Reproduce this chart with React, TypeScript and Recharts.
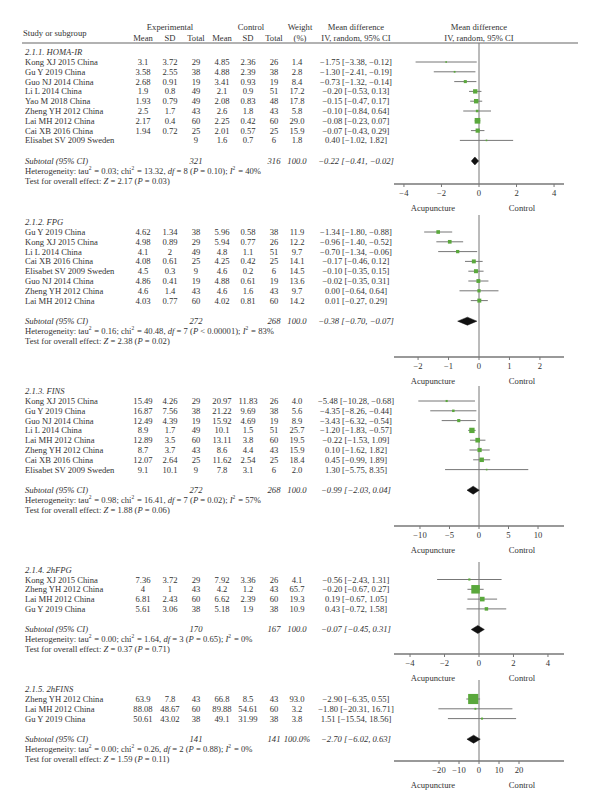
import React from 'react';
import { ScatterChart, Scatter, XAxis, YAxis, ErrorBar, ReferenceLine } from 'recharts';

const FONT = '"Liberation Serif", "Times New Roman", serif';
const INK = '#333';
const GREEN = '#5aa83c';
const GREY = '#777';
const PITCH = 9.8;
const FS = 8.6;

// study rows: display strings for the table, numbers for the plot
const homaIr = [
    { study: 'Kong XJ 2015 China', eMean: '3.1', eSd: '3.72', eN: 29, cMean: '4.85', cSd: '2.36', cN: 26, w: 1.4, md: -1.75, lo: -3.38, hi: -0.12 },
    { study: 'Gu Y 2019 China', eMean: '3.58', eSd: '2.55', eN: 38, cMean: '4.88', cSd: '2.39', cN: 38, w: 2.8, md: -1.30, lo: -2.41, hi: -0.19 },
    { study: 'Guo NJ 2014 China', eMean: '2.68', eSd: '0.91', eN: 19, cMean: '3.41', cSd: '0.93', cN: 19, w: 8.4, md: -0.73, lo: -1.32, hi: -0.14 },
    { study: 'Li L 2014 China', eMean: '1.9', eSd: '0.8', eN: 49, cMean: '2.1', cSd: '0.9', cN: 51, w: 17.2, md: -0.20, lo: -0.53, hi: 0.13 },
    { study: 'Yao M 2018 China', eMean: '1.93', eSd: '0.79', eN: 49, cMean: '2.08', cSd: '0.83', cN: 48, w: 17.8, md: -0.15, lo: -0.47, hi: 0.17 },
    { study: 'Zheng YH 2012 China', eMean: '2.5', eSd: '1.7', eN: 43, cMean: '2.6', cSd: '1.8', cN: 43, w: 5.8, md: -0.10, lo: -0.84, hi: 0.64 },
    { study: 'Lai MH 2012 China', eMean: '2.17', eSd: '0.4', eN: 60, cMean: '2.25', cSd: '0.42', cN: 60, w: 29.0, md: -0.08, lo: -0.23, hi: 0.07 },
    { study: 'Cai XB 2016 China', eMean: '1.94', eSd: '0.72', eN: 25, cMean: '2.01', cSd: '0.57', cN: 25, w: 15.9, md: -0.07, lo: -0.43, hi: 0.29 },
    { study: 'Elisabet SV 2009 Sweden', eMean: '', eSd: '', eN: 9, cMean: '1.6', cSd: '0.7', cN: 6, w: 1.8, md: 0.40, lo: -1.02, hi: 1.82 },
];

const fpg = [
    { study: 'Gu Y 2019 China', eMean: '4.62', eSd: '1.34', eN: 38, cMean: '5.96', cSd: '0.58', cN: 38, w: 11.9, md: -1.34, lo: -1.80, hi: -0.88 },
    { study: 'Kong XJ 2015 China', eMean: '4.98', eSd: '0.89', eN: 29, cMean: '5.94', cSd: '0.77', cN: 26, w: 12.2, md: -0.96, lo: -1.40, hi: -0.52 },
    { study: 'Li L 2014 China', eMean: '4.1', eSd: '2', eN: 49, cMean: '4.8', cSd: '1.1', cN: 51, w: 9.7, md: -0.70, lo: -1.34, hi: -0.06 },
    { study: 'Cai XB 2016 China', eMean: '4.08', eSd: '0.61', eN: 25, cMean: '4.25', cSd: '0.42', cN: 25, w: 14.1, md: -0.17, lo: -0.46, hi: 0.12 },
    { study: 'Elisabet SV 2009 Sweden', eMean: '4.5', eSd: '0.3', eN: 9, cMean: '4.6', cSd: '0.2', cN: 6, w: 14.5, md: -0.10, lo: -0.35, hi: 0.15 },
    { study: 'Guo NJ 2014 China', eMean: '4.86', eSd: '0.41', eN: 19, cMean: '4.88', cSd: '0.61', cN: 19, w: 13.6, md: -0.02, lo: -0.35, hi: 0.31 },
    { study: 'Zheng YH 2012 China', eMean: '4.6', eSd: '1.4', eN: 43, cMean: '4.6', cSd: '1.6', cN: 43, w: 9.7, md: 0.00, lo: -0.64, hi: 0.64 },
    { study: 'Lai MH 2012 China', eMean: '4.03', eSd: '0.77', eN: 60, cMean: '4.02', cSd: '0.81', cN: 60, w: 14.2, md: 0.01, lo: -0.27, hi: 0.29 },
];

const fins = [
    { study: 'Kong XJ 2015 China', eMean: '15.49', eSd: '4.26', eN: 29, cMean: '20.97', cSd: '11.83', cN: 26, w: 4.0, md: -5.48, lo: -10.28, hi: -0.68 },
    { study: 'Gu Y 2019 China', eMean: '16.87', eSd: '7.56', eN: 38, cMean: '21.22', cSd: '9.69', cN: 38, w: 5.6, md: -4.35, lo: -8.26, hi: -0.44 },
    { study: 'Guo NJ 2014 China', eMean: '12.49', eSd: '4.39', eN: 19, cMean: '15.92', cSd: '4.69', cN: 19, w: 8.9, md: -3.43, lo: -6.32, hi: -0.54 },
    { study: 'Li L 2014 China', eMean: '8.9', eSd: '1.7', eN: 49, cMean: '10.1', cSd: '1.5', cN: 51, w: 25.7, md: -1.20, lo: -1.83, hi: -0.57 },
    { study: 'Lai MH 2012 China', eMean: '12.89', eSd: '3.5', eN: 60, cMean: '13.11', cSd: '3.8', cN: 60, w: 19.5, md: -0.22, lo: -1.53, hi: 1.09 },
    { study: 'Zheng YH 2012 China', eMean: '8.7', eSd: '3.7', eN: 43, cMean: '8.6', cSd: '4.4', cN: 43, w: 15.9, md: 0.10, lo: -1.62, hi: 1.82 },
    { study: 'Cai XB 2016 China', eMean: '12.07', eSd: '2.64', eN: 25, cMean: '11.62', cSd: '2.54', cN: 25, w: 18.4, md: 0.45, lo: -0.99, hi: 1.89 },
    { study: 'Elisabet SV 2009 Sweden', eMean: '9.1', eSd: '10.1', eN: 9, cMean: '7.8', cSd: '3.1', cN: 6, w: 2.0, md: 1.30, lo: -5.75, hi: 8.35 },
];

const fpg2h = [
    { study: 'Kong XJ 2015 China', eMean: '7.36', eSd: '3.72', eN: 29, cMean: '7.92', cSd: '3.36', cN: 26, w: 4.1, md: -0.56, lo: -2.43, hi: 1.31 },
    { study: 'Zheng YH 2012 China', eMean: '4', eSd: '1', eN: 43, cMean: '4.2', cSd: '1.2', cN: 43, w: 65.7, md: -0.20, lo: -0.67, hi: 0.27 },
    { study: 'Lai MH 2012 China', eMean: '6.81', eSd: '2.43', eN: 60, cMean: '6.62', cSd: '2.39', cN: 60, w: 19.3, md: 0.19, lo: -0.67, hi: 1.05 },
    { study: 'Gu Y 2019 China', eMean: '5.61', eSd: '3.06', eN: 38, cMean: '5.18', cSd: '1.9', cN: 38, w: 10.9, md: 0.43, lo: -0.72, hi: 1.58 },
];

const fins2h = [
    { study: 'Zheng YH 2012 China', eMean: '63.9', eSd: '7.8', eN: 43, cMean: '66.8', cSd: '8.5', cN: 43, w: 93.0, md: -2.90, lo: -6.35, hi: 0.55 },
    { study: 'Lai MH 2012 China', eMean: '88.08', eSd: '48.67', eN: 60, cMean: '89.88', cSd: '54.61', cN: 60, w: 3.2, md: -1.80, lo: -20.31, hi: 16.71 },
    { study: 'Gu Y 2019 China', eMean: '50.61', eSd: '43.02', eN: 38, cMean: '49.1', cSd: '31.99', cN: 38, w: 3.8, md: 1.51, lo: -15.54, hi: 18.56 },
];

const titles = ['2.1.1. HOMA-IR', '2.1.2. FPG', '2.1.3. FINS', '2.1.4. 2hFPG', '2.1.5. 2hFINS'];

const subtotals = [
    { eN: 321, cN: 316, w: '100.0', md: -0.22, lo: -0.41, hi: -0.02 },
    { eN: 272, cN: 268, w: '100.0', md: -0.38, lo: -0.70, hi: -0.07 },
    { eN: 272, cN: 268, w: '100.0', md: -0.99, lo: -2.03, hi: 0.04 },
    { eN: 170, cN: 167, w: '100.0', md: -0.07, lo: -0.45, hi: 0.31 },
    { eN: 141, cN: 141, w: '100.0%', md: -2.70, lo: -6.02, hi: 0.63 },
];

const heterogeneity = [
    { tau2: '0.03', chi2: '13.32', df: '8', p: '= 0.10', i2: '40%', z: '2.17', pz: '0.03' },
    { tau2: '0.16', chi2: '40.48', df: '7', p: '< 0.00001', i2: '83%', z: '2.38', pz: '0.02' },
    { tau2: '0.98', chi2: '16.41', df: '7', p: '= 0.02', i2: '57%', z: '1.88', pz: '0.06' },
    { tau2: '0.00', chi2: '1.64', df: '3', p: '= 0.65', i2: '0%', z: '0.37', pz: '0.71' },
    { tau2: '0.00', chi2: '0.26', df: '2', p: '= 0.88', i2: '0%', z: '1.59', pz: '0.11' },
];

const axisTicks = [
    [-4, -2, 0, 2, 4],
    [-2, -1, 0, 1, 2],
    [-10, -5, 0, 5, 10],
    [-4, -2, 0, 2, 4],
    [-20, -10, 0, 10, 20],
];

const groups = [homaIr, fpg, fins, fpg2h, fins2h];

// layout of each block (pixels): first study row, top of zero line, axis line, half-range of x scale
const layouts = [
    { first: 62, zeroTop: 43, axisY: 184, dom: 4.53 },
    { first: 232, zeroTop: 215, axisY: 357, dom: 2.79 },
    { first: 401, zeroTop: 386, axisY: 526, dom: 14.4 },
    { first: 579.5, zeroTop: 562, axisY: 654, dom: 4.93 },
    { first: 699, zeroTop: 680, axisY: 761, dom: 42.5 },
];

const COL = { name: 25, eMean: 143, eSd: 170, eN: 196, cMean: 222, cSd: 248, cN: 274, w: 297, ci: 356 };

const minus = (v: number | string) => String(v).replace('-', '\u2212');
const f2 = (v: number) => minus(v.toFixed(2));
const ciText = (md: number, lo: number, hi: number) => `${f2(md)} [${f2(lo)}, ${f2(hi)}]`;

const Box = (p: any) => {
    const s = Math.max(1.6, Math.sqrt(p.payload.w) * 1.05);
    return <rect x={p.cx - s / 2} y={p.cy - s / 2} width={s} height={s} fill={GREEN} />;
};

const Diamond = (p: any) => {
    const pts = p.points || [];
    if (pts.length < 3) return <g />;
    const [a, m, b] = pts;
    return (
        <polygon
            points={`${a.x},${a.y} ${m.x},${m.y - 4} ${b.x},${b.y} ${m.x},${m.y + 4}`}
            fill="#111"
            stroke="#111"
            strokeWidth={0.5}
        />
    );
};

const Nothing = () => <g />;

const ForestPanel = ({ idx }: { idx: number }) => {
    const lay = layouts[idx];
    const studies = groups[idx];
    const sub = subtotals[idx];
    const h = lay.axisY - lay.zeroTop;
    const yTop = (lay.zeroTop - lay.first) / PITCH;
    const yBot = (lay.axisY - lay.first) / PITCH;
    const pts = studies.map((s, i) => ({ x: s.md, y: i, w: s.w, err: [s.md - s.lo, s.hi - s.md] }));
    const subY = studies.length + 1.1;
    const dia = [
        { x: sub.lo, y: subY },
        { x: sub.md, y: subY },
        { x: sub.hi, y: subY },
    ];
    return (
        <div style={{ position: 'absolute', left: 0, top: lay.zeroTop }}>
            <ScatterChart width={600} height={h + 22} margin={{ top: 0, right: 36, bottom: 0, left: 394 }}>
                <XAxis
                    type="number"
                    dataKey="x"
                    domain={[-lay.dom, lay.dom]}
                    ticks={axisTicks[idx]}
                    interval={0}
                    allowDataOverflow
                    height={22}
                    tickSize={3}
                    tickMargin={3}
                    axisLine={{ stroke: GREY, strokeWidth: 1.5 }}
                    tickLine={{ stroke: GREY }}
                    tick={{ fontSize: FS, fontFamily: FONT, fill: INK }}
                    tickFormatter={minus}
                />
                <YAxis type="number" dataKey="y" domain={[yTop, yBot]} reversed hide allowDataOverflow />
                <ReferenceLine x={0} stroke={GREY} strokeWidth={1} />
                <Scatter data={pts} shape={Box} isAnimationActive={false}>
                    <ErrorBar dataKey="err" direction="x" width={0} stroke={GREY} strokeWidth={1} isAnimationActive={false} />
                </Scatter>
                <Scatter data={dia} shape={Nothing} line={Diamond} isAnimationActive={false} />
            </ScatterChart>
        </div>
    );
};

const T = (props: any) => (
    <text fontFamily={FONT} fontSize={FS} fill={INK} dominantBaseline="central" {...props} />
);

const Sup = ({ children }: any) => (
    <>
        <tspan dy={-3} fontSize={5.5}>{children}</tspan>
        <tspan dy={3}>{'\u200a'}</tspan>
    </>
);

const Block = ({ idx }: { idx: number }) => {
    const lay = layouts[idx];
    const studies = groups[idx];
    const sub = subtotals[idx];
    const het = heterogeneity[idx];
    const subPx = lay.first + (studies.length + 1.1) * PITCH;
    return (
        <g>
            <T x={COL.name} y={lay.first - 10} fontStyle="italic">{titles[idx]}</T>
            {studies.map((s, i) => {
                const y = lay.first + i * PITCH;
                return (
                    <g key={s.study}>
                        <T x={COL.name} y={y}>{s.study}</T>
                        <T x={COL.eMean} y={y} textAnchor="middle">{s.eMean}</T>
                        <T x={COL.eSd} y={y} textAnchor="middle">{s.eSd}</T>
                        <T x={COL.eN} y={y} textAnchor="middle">{s.eN}</T>
                        <T x={COL.cMean} y={y} textAnchor="middle">{s.cMean}</T>
                        <T x={COL.cSd} y={y} textAnchor="middle">{s.cSd}</T>
                        <T x={COL.cN} y={y} textAnchor="middle">{s.cN}</T>
                        <T x={COL.w} y={y} textAnchor="middle">{s.w.toFixed(1)}</T>
                        <T x={COL.ci} y={y} textAnchor="middle">{ciText(s.md, s.lo, s.hi)}</T>
                    </g>
                );
            })}
            <T x={COL.name} y={subPx} fontStyle="italic">Subtotal (95% CI)</T>
            <T x={COL.eN} y={subPx} fontStyle="italic" textAnchor="middle">{sub.eN}</T>
            <T x={COL.cN} y={subPx} fontStyle="italic" textAnchor="middle">{sub.cN}</T>
            <T x={COL.w} y={subPx} fontStyle="italic" textAnchor="middle">{sub.w}</T>
            <T x={COL.ci} y={subPx} fontStyle="italic" textAnchor="middle">{ciText(sub.md, sub.lo, sub.hi)}</T>
            <T x={COL.name} y={subPx + 10}>
                Heterogeneity: tau<Sup>2</Sup> = {het.tau2}; chi<Sup>2</Sup> = {het.chi2},{' '}
                <tspan fontStyle="italic">df</tspan> = {het.df} (<tspan fontStyle="italic">P</tspan> {het.p});{' '}
                <tspan fontStyle="italic">I</tspan><Sup>2</Sup> = {het.i2}
            </T>
            <T x={COL.name} y={subPx + 20}>
                Test for overall effect: <tspan fontStyle="italic">Z</tspan> = {het.z} (<tspan fontStyle="italic">P</tspan> = {het.pz})
            </T>
            <T x={433} y={lay.axisY + 24} textAnchor="middle">Acupuncture</T>
            <T x={522} y={lay.axisY + 24} textAnchor="middle">Control</T>
        </g>
    );
};

const App = () => {
    return (
        <div style={{ position: 'absolute', left: 0, top: 0, width: 600, height: 809, background: '#fff' }}>
            <svg width={600} height={809} style={{ position: 'absolute', left: 0, top: 0 }}>
                <T x={23} y={33}>Study or subgroup</T>
                <T x={170} y={27} textAnchor="middle">Experimental</T>
                <T x={251} y={27} textAnchor="middle">Control</T>
                <T x={300} y={27} textAnchor="middle">Weight</T>
                <T x={356} y={27} textAnchor="middle">Mean difference</T>
                <T x={479} y={27} textAnchor="middle">Mean difference</T>
                <T x={COL.eMean} y={38} textAnchor="middle">Mean</T>
                <T x={COL.eSd} y={38} textAnchor="middle">SD</T>
                <T x={COL.eN} y={38} textAnchor="middle">Total</T>
                <T x={COL.cMean} y={38} textAnchor="middle">Mean</T>
                <T x={COL.cSd} y={38} textAnchor="middle">SD</T>
                <T x={COL.cN} y={38} textAnchor="middle">Total</T>
                <T x={300} y={38} textAnchor="middle">(%)</T>
                <T x={356} y={38} textAnchor="middle">IV, random, 95% CI</T>
                <T x={479} y={38} textAnchor="middle">IV, random, 95% CI</T>
                <line x1={22} x2={578} y1={43} y2={43} stroke="#999" strokeWidth={1.5} />
                {groups.map((_, i) => (
                    <Block key={i} idx={i} />
                ))}
            </svg>
            {groups.map((_, i) => (
                <ForestPanel key={i} idx={i} />
            ))}
        </div>
    );
};

export default App;
